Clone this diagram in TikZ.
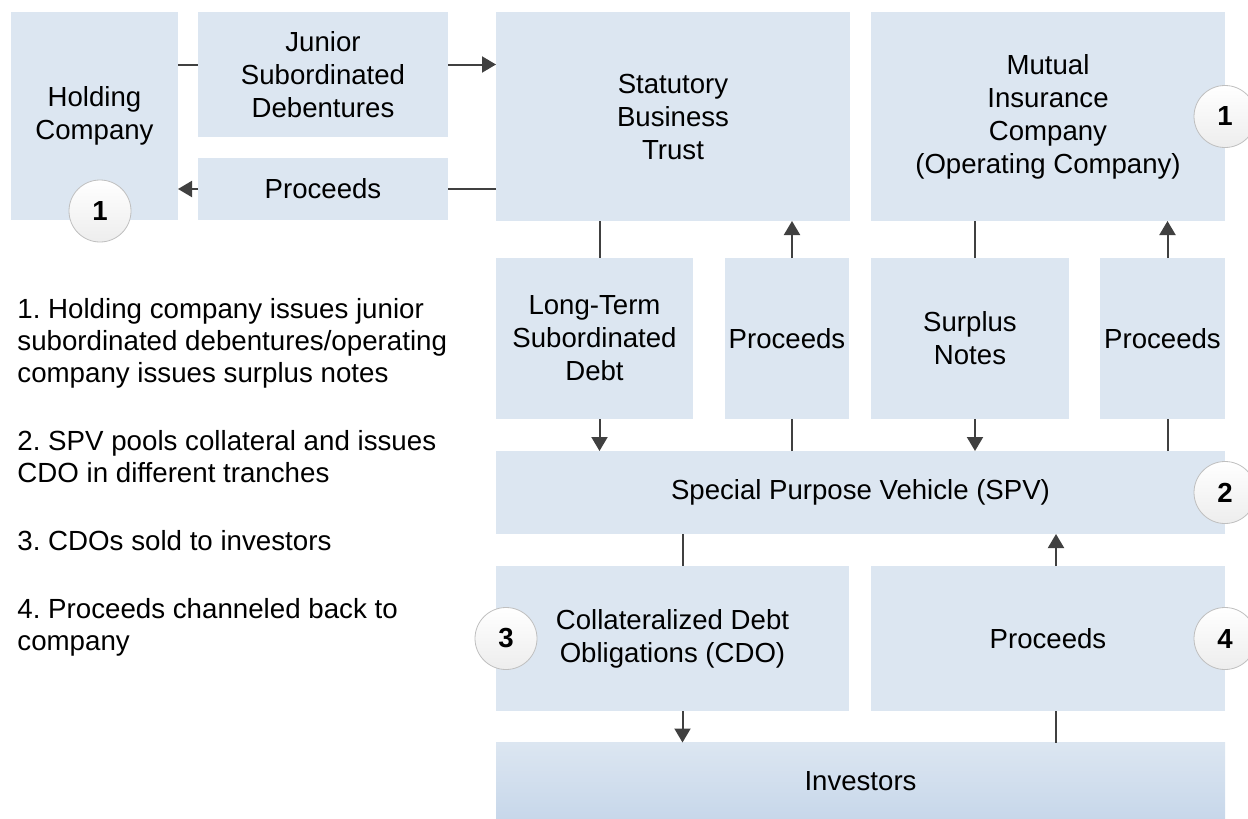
\documentclass[tikz,border=0pt]{standalone}
\usepackage{fontspec}
\setmainfont{Liberation Sans}
\usetikzlibrary{arrows.meta}
\definecolor{boxfill}{HTML}{DCE6F1}
\definecolor{boxdark}{HTML}{C7D7EA}
\definecolor{linegray}{HTML}{404040}
\frenchspacing
\begin{document}
\begin{tikzpicture}
  [x=0.5pt, y=-0.5pt,
   box/.style={fill=boxfill, inner sep=0pt, outer sep=0pt, align=center,
     font=\fontsize{13.8}{16.5}\selectfont},
   link/.style={draw=linegray, line width=1pt},
   arr/.style={link, -{Triangle[length=7pt, width=8pt]}},
   badge/.style={circle, minimum size=31pt, inner sep=0pt, draw=gray!50,
     top color=white, bottom color=gray!14, font=\fontsize{13.8}{16}\selectfont\bfseries}]
  \clip (0,0) rectangle (1248,819);

  % top row
  \node[box, minimum width=83.5pt, minimum height=104pt] (hold) at (94.5,116) {Holding\\Company};
  \node[box, minimum width=125pt, minimum height=62.5pt] (jsd) at (323,74.5) {Junior\\Subordinated\\Debentures};
  \node[box, minimum width=125pt, minimum height=31pt] (procA) at (323,189) {Proceeds};
  \node[box, minimum width=177pt, minimum height=104.5pt] (sbt) at (673,116.5) {Statutory\\Business\\Trust};
  \node[box, minimum width=177pt, minimum height=104.5pt] (mic) at (1048,116.5) {Mutual\\Insurance\\Company\\(Operating Company)};

  % middle row
  \node[box, minimum width=98.5pt, minimum height=80.5pt] (ltsd) at (594.5,338.5) {Long-Term\\Subordinated\\Debt};
  \node[box, minimum width=62pt, minimum height=80.5pt] (procB) at (787,338.5) {Proceeds};
  \node[box, minimum width=99pt, minimum height=80.5pt] (surp) at (970,338.5) {Surplus\\Notes};
  \node[box, minimum width=62.5pt, minimum height=80.5pt] (procC) at (1162.5,338.5) {Proceeds};

  \node[box, minimum width=364.5pt, minimum height=41.5pt] (spv) at (860.5,492.5) {Special Purpose Vehicle (SPV)};

  % bottom rows
  \node[box, minimum width=176.5pt, minimum height=72.5pt] (cdo) at (672.5,638.5) {Collateralized Debt\\Obligations (CDO)};
  \node[box, minimum width=177pt, minimum height=72.5pt] (procD) at (1048,638.5) {Proceeds};
  \node[box, top color=boxfill, bottom color=boxdark, minimum width=364.5pt, minimum height=38.5pt] (inv) at (860.5,781) {Investors};

  % notes
  \node[anchor=north west, align=left, inner sep=0pt, font=\fontsize{13.85}{16}\selectfont] (notes) at (17,298)
    {1. Holding company issues junior\\subordinated debentures/operating\\company issues surplus notes\\[18pt]
     2. SPV pools collateral and issues\\CDO in different tranches\\[18pt]
     3. CDOs sold to investors\\[18pt]
     4. Proceeds channeled back to\\company};

  % connectors, top row
  \coordinate (jsdin) at ([yshift=5pt]jsd.west);
  \draw[link] (jsdin -| hold.east) -- (jsdin);
  \draw[arr] (jsdin -| jsd.east) -- (jsdin -| sbt.west);
  \draw[link] (sbt.west |- procA) -- (procA.east);
  \draw[arr] (procA.west) -- (procA.west -| hold.east);

  % connectors, middle row
  \coordinate (ltsdx) at ([xshift=2.5pt]ltsd.center);
  \coordinate (procBx) at ([xshift=2.5pt]procB.center);
  \coordinate (surpx) at ([xshift=2.5pt]surp.center);
  \coordinate (procCx) at ([xshift=2.5pt]procC.center);
  \draw[link] (sbt.south -| ltsdx) -- (ltsd.north -| ltsdx);
  \draw[arr] (ltsd.south -| ltsdx) -- (spv.north -| ltsdx);
  \draw[link] (spv.north -| procBx) -- (procB.south -| procBx);
  \draw[arr] (procB.north -| procBx) -- (sbt.south -| procBx);
  \draw[link] (mic.south -| surpx) -- (surp.north -| surpx);
  \draw[arr] (surp.south -| surpx) -- (spv.north -| surpx);
  \draw[link] (spv.north -| procCx) -- (procC.south -| procCx);
  \draw[arr] (procC.north -| procCx) -- (mic.south -| procCx);

  % connectors, bottom rows
  \coordinate (cdox) at ([xshift=5pt]cdo.center);
  \coordinate (procDx) at ([xshift=4pt]procD.center);
  \draw[link] (spv.south -| cdox) -- (cdo.north -| cdox);
  \draw[arr] (cdo.south -| cdox) -- (inv.north -| cdox);
  \draw[link] (inv.north -| procDx) -- (procD.south -| procDx);
  \draw[arr] (procD.north -| procDx) -- (spv.south -| procDx);

  % step markers
  \node[badge] (b1) at ([xshift=2.75pt, yshift=4.5pt]hold.south) {1};
  \node[badge] (b1r) at (mic.east) {1};
  \node[badge] (b2) at (spv.east) {2};
  \node[badge] (b3) at ([xshift=5pt]cdo.west) {3};
  \node[badge] (b4) at (procD.east) {4};
\end{tikzpicture}
\end{document}
